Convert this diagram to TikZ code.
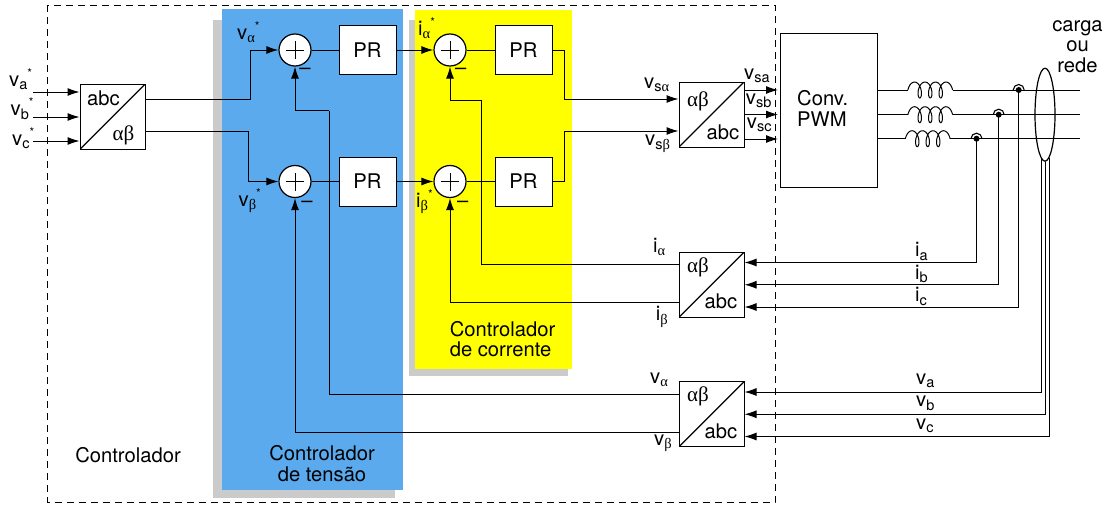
\documentclass[tikz,border=0pt]{standalone}
\usepackage{fontspec}
\setmainfont{TeX Gyre Heros}
\newfontfamily\greekfont{Liberation Serif}
\usepackage{tikz}
\usetikzlibrary{arrows.meta,shapes.geometric}
\definecolor{tensaoblue}{HTML}{5BAAEE}
\definecolor{shadowgray}{HTML}{CBCBCB}
\definecolor{correnteyellow}{RGB}{255,255,0}
\newcommand{\ga}{{\greekfont α}}
\newcommand{\gb}{{\greekfont β}}
\newcommand{\gab}{{\fontsize{21}{21}\selectfont\greekfont αβ}}
\newcommand{\lsub}[1]{\raisebox{-3.5pt}{\fontsize{14.5}{14.5}\selectfont #1}}
\newcommand{\lstar}{\raisebox{9pt}{\fontsize{12}{12}\selectfont *}}
\newcommand{\coilplot}[1]{\draw[line width=1pt,shift={(#1)}] plot[smooth,domain=-1.571:20.42,samples=70,variable=\t] ({6.5+1.67*\t+4*sin(\t r)},{-8*cos(\t r)});}
\tikzstyle{txt}=[inner sep=0pt,font=\fontsize{20.2}{20.6}\selectfont]
\tikzstyle{lab}=[txt,anchor=base west]
\tikzstyle{prbox}=[draw,fill=white,line width=1pt,minimum width=57pt,minimum height=49pt,inner sep=0pt,txt]
\tikzstyle{sumnode}=[circle,draw,fill=white,line width=1.2pt,minimum size=32pt,inner sep=0pt,
  path picture={\draw[line width=0.9pt] (path picture bounding box.center) ++(-9pt,0pt) -- ++(18pt,0pt) ++(-9pt,-9pt) -- ++(0pt,18pt);}]
\tikzstyle{convblock}=[draw,fill=white,line width=1pt,minimum size=65pt,inner sep=0pt,
  path picture={\draw[line width=1.1pt] (path picture bounding box.south west) -- (path picture bounding box.north east);}]
\tikzstyle{edge}=[draw,line width=1pt,-]
\tikzstyle{arr}=[edge,-{Latex[length=12pt,width=8pt]}]

\begin{document}
\begin{tikzpicture}[x=1pt,y=-1pt]
  \useasboundingbox (0,0) rectangle (1109,506);
  % areas
  \fill[shadowgray] (213,20) rectangle (395,498);
  \fill[tensaoblue] (222,8.5) rectangle (403,490);
  \fill[shadowgray] (408.5,20) rectangle (568,376);
  \fill[correnteyellow] (415,10) rectangle (571.5,369);
  \draw[line width=1pt,dash pattern=on 7pt off 5pt] (47.5,5) rectangle (775,502);
  % blocks
  \node[convblock] (abcin) at (112.5,116.75) {};
  \node[sumnode] (s1) at (295,50) {};
  \node[sumnode] (s2) at (295,181.5) {};
  \node[sumnode] (s3) at (450,50) {};
  \node[sumnode] (s4) at (450,181.5) {};
  \node[prbox] (pr1) at (367.5,50) {PR};
  \node[prbox] (pr2) at (367.5,181.5) {PR};
  \node[prbox] (pr3) at (523.5,50) {PR};
  \node[prbox] (pr4) at (523.5,181.5) {PR};
  \node[convblock] (abcout) at (711.5,114.5) {};
  \node[convblock] (convi) at (711.5,284.75) {};
  \node[convblock] (convv) at (711.5,414.25) {};
  \node[draw,line width=1pt,minimum width=97pt,minimum height=153.5pt,inner sep=0pt] (pwm) at (828.5,110.25) {};
  \node[draw,ellipse,line width=1.2pt,minimum width=20pt,minimum height=93pt,inner sep=0pt] (carga) at (1045,114.7) {};
  % free ends and corners
  \coordinate (ina) at (33,92);
  \coordinate (inb) at (33,117);
  \coordinate (inc) at (33,141);
  \coordinate (k1) at (250,50);
  \coordinate (k2) at (248,181.5);
  \coordinate (k3) at (564,99);
  \coordinate (k4) at (564,131);
  \coordinate (fb1) at (481.7,100);
  \coordinate (fb2) at (329,110.5);
  \coordinate (la1) at (908,90);
  \coordinate (la2) at (952.6,90);
  \coordinate (lb1) at (908,114.7);
  \coordinate (lb2) at (952.6,114.7);
  \coordinate (lc1) at (905.5,138.7);
  \coordinate (lc2) at (950,138.7);
  \coordinate (ea) at (1080,90);
  \coordinate (eb) at (1080,114.7);
  \coordinate (ec) at (1080,138.7);
  \coordinate (ja) at (1018.7,90);
  \coordinate (jb) at (998.7,114.7);
  \coordinate (jc) at (976.5,138.7);
  % input side
  \draw[arr] (ina) -- (ina -| abcin.west);
  \draw[arr] (inb) -- (inb -| abcin.west);
  \draw[arr] (inc) -- (inc -| abcin.west);
  \draw[edge] ([yshift=17.5pt]abcin.east) -| (k1);
  \draw[arr] (k1) -- (s1.west);
  \draw[edge] ([yshift=-14.5pt]abcin.east) -| (k2);
  \draw[arr] (k2) -- (s2.west);
  % forward path
  \draw[edge] (s1) -- (pr1);
  \draw[edge] (s2) -- (pr2);
  \draw[arr] (pr1) -- (s3.west);
  \draw[arr] (pr2) -- (s4.west);
  \draw[edge] (s3) -- (pr3);
  \draw[edge] (s4) -- (pr4);
  \draw[edge] (pr3.east) -| (k3);
  \draw[arr] (k3) -- (k3 -| abcout.west);
  \draw[edge] (pr4.east) -| (k4);
  \draw[arr] (k4) -- (k4 -| abcout.west);
  \draw[arr] ([yshift=24.5pt]abcout.east) -- ([yshift=24.5pt,xshift=-1.5pt]abcout.east -| pwm.west);
  \draw[arr] (abcout.east) -- ([xshift=-1.5pt]abcout.east -| pwm.west);
  \draw[arr] ([yshift=-24.5pt]abcout.east) -- ([yshift=-24.5pt,xshift=-1.5pt]abcout.east -| pwm.west);
  % feedback paths
  \draw[edge] ([yshift=20.5pt]convi.west) -| (fb1);
  \draw[arr] (fb1) -| (s3.south);
  \draw[arr] ([yshift=-18pt]convi.west) -| (s4.south);
  \draw[edge] ([yshift=20.25pt]convv.west) -| (fb2);
  \draw[arr] (fb2) -| (s1.south);
  \draw[arr] ([yshift=-18pt]convv.west) -| (s2.south);
  % output lines and inductors
  \draw[edge] (la1 -| pwm.east) -- (la1);
  \coilplot{la1}
  \draw[edge] (la2) -- (ea);
  \draw[edge] (lb1 -| pwm.east) -- (lb1);
  \coilplot{lb1}
  \draw[edge] (lb2) -- (eb);
  \draw[edge] (lc1 -| pwm.east) -- (lc1);
  \coilplot{lc1}
  \draw[edge] (lc2) -- (ec);
  \fill (ja) circle (3pt);
  \fill (jb) circle (3pt);
  \fill (jc) circle (3pt);
  \draw[line width=1.1pt] (ja) ++(-5.5pt,0pt) arc[start angle=180,end angle=0,radius=5.5pt];
  \draw[line width=1.1pt] (jb) ++(-5.5pt,0pt) arc[start angle=180,end angle=0,radius=5.5pt];
  \draw[line width=1.1pt] (jc) ++(-5.5pt,0pt) arc[start angle=180,end angle=0,radius=5.5pt];
  % measurements
  \draw[arr] (jc) |- ([yshift=22.25pt]convi.east);
  \draw[arr] (jb) |- (convi.east);
  \draw[arr] (ja) |- ([yshift=-22.25pt]convi.east);
  \draw[arr] ([xshift=-3.7pt,yshift=4pt]carga.south) |- ([yshift=22.25pt]convv.east);
  \draw[arr] ([xshift=0.5pt]carga.south) |- (convv.east);
  \draw[arr] ([xshift=4.6pt,yshift=4pt]carga.south) |- ([yshift=-22.25pt]convv.east);
  % block texts
  \node[txt] (t1) at (103.5,98) {abc};
  \node[txt] (t2) at (123.5,135) {\gab};
  \node[txt] (t3) at (698,101) {\gab};
  \node[txt] (t4) at (723,132) {abc};
  \node[txt] (t5) at (698,267) {\gab};
  \node[txt] (t6) at (721,301) {abc};
  \node[txt] (t7) at (698,396) {\gab};
  \node[txt] (t8) at (721,431) {abc};
  \node[lab,align=left] (t9) at (797,126) {Conv.\\PWM};
  \node[txt] (t10) at (128,455) {Controlador};
  \node[txt,align=center] (t11) at (322,463.5) {Controlador\\de tensão};
  \node[txt,align=left] (t12) at (502.5,339) {Controlador\\de corrente};
  \node[txt,align=center] (t13) at (1077.5,46.5) {carga\\ou\\rede};
  % signal labels
  \node[lab] (va1) at (9,86) {v\lsub{a}\lstar};
  \node[lab] (vb1) at (10.5,115.7) {v\lsub{b}\lstar};
  \node[lab] (vc1) at (12,145) {v\lsub{c}\lstar};
  \node[lab] (v1) at (237,39.3) {v\lsub{\ga}\lstar};
  \node[lab] (v2) at (238.5,206) {v\lsub{\gb}\lstar};
  \node[lab] (i1) at (418,35) {i\lsub{\ga}\lstar};
  \node[lab] (i2) at (416,207) {i\lsub{\gb}\lstar};
  \node[txt] (m1) at (305,71.5) {–};
  \node[txt] (m2) at (307,204.5) {–};
  \node[txt] (m3) at (460.7,71.5) {–};
  \node[txt] (m4) at (462.7,204.5) {–};
  \node[lab] (vs1) at (644,88) {v\lsub{s\ga}};
  \node[lab] (vs2) at (645,145.7) {v\lsub{s\gb}};
  \node[lab] (vsa) at (744,79) {v\lsub{sa}};
  \node[lab] (vsb) at (745.7,104) {v\lsub{sb}};
  \node[lab] (vsc) at (746.7,128) {v\lsub{sc}};
  \node[lab] (ial) at (653,252) {i\lsub{\ga}};
  \node[lab] (ibe) at (655.7,320.7) {i\lsub{\gb}};
  \node[lab] (val) at (650,383) {v\lsub{\ga}};
  \node[lab] (vbe) at (654,445) {v\lsub{\gb}};
  \node[lab] (ia) at (915,256.7) {i\lsub{a}};
  \node[lab] (ib) at (915,279) {i\lsub{b}};
  \node[lab] (ic) at (915,301.7) {i\lsub{c}};
  \node[lab] (va) at (916,384) {v\lsub{a}};
  \node[lab] (vb) at (916,406.7) {v\lsub{b}};
  \node[lab] (vc) at (916,429) {v\lsub{c}};
\end{tikzpicture}
\end{document}
